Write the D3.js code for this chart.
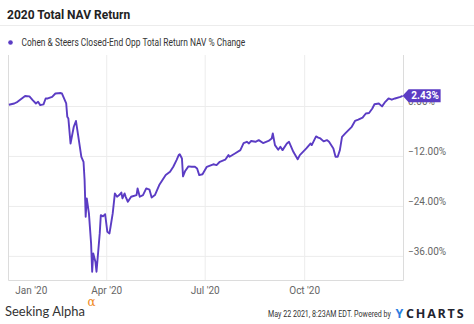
<!DOCTYPE html>
<html>
<head>
<meta charset="utf-8">
<script src="https://cdn.jsdelivr.net/npm/d3@7"></script>
<style>
  html, body { margin: 0; padding: 0; background: #fff; }
  svg { display: block; font-family: Roboto, "Noto Sans", sans-serif; }
</style>
</head>
<body>
<svg id="chart" width="474" height="324"></svg>
<script>
// Cohen & Steers Closed-End Opportunity Fund — total return NAV, % change during 2020
const dates = [
  "2020-01-02","2020-01-07","2020-01-10","2020-01-17","2020-01-21","2020-01-24","2020-01-27","2020-01-29","2020-01-31",
  "2020-02-03","2020-02-05","2020-02-07","2020-02-11","2020-02-14","2020-02-19","2020-02-20","2020-02-24","2020-02-25",
  "2020-02-26","2020-02-28","2020-03-02","2020-03-04","2020-03-06","2020-03-09","2020-03-11","2020-03-12","2020-03-13",
  "2020-03-14","2020-03-16","2020-03-17","2020-03-18","2020-03-19","2020-03-20","2020-03-22","2020-03-23","2020-03-26",
  "2020-03-27","2020-03-29","2020-03-31","2020-04-02","2020-04-04","2020-04-05","2020-04-07","2020-04-09","2020-04-11",
  "2020-04-13","2020-04-15","2020-04-16","2020-04-18","2020-04-19","2020-04-21","2020-04-24","2020-04-29","2020-04-30",
  "2020-05-02","2020-05-05","2020-05-08","2020-05-11","2020-05-13","2020-05-16","2020-05-20","2020-05-23","2020-05-26",
  "2020-05-30","2020-06-02","2020-06-05","2020-06-07","2020-06-08","2020-06-10","2020-06-11","2020-06-13","2020-06-16",
  "2020-06-19","2020-06-22","2020-06-24","2020-06-26","2020-06-29","2020-07-03","2020-07-09","2020-07-12","2020-07-15",
  "2020-07-20","2020-07-23","2020-07-24","2020-07-29","2020-08-03","2020-08-06","2020-08-09","2020-08-11","2020-08-13",
  "2020-08-17","2020-08-20","2020-08-24","2020-08-29","2020-09-01","2020-09-02","2020-09-04","2020-09-07","2020-09-09",
  "2020-09-11","2020-09-15","2020-09-17","2020-09-21","2020-09-25","2020-09-27","2020-10-03","2020-10-07","2020-10-08",
  "2020-10-12","2020-10-14","2020-10-16","2020-10-19","2020-10-22","2020-10-24","2020-10-28","2020-10-30","2020-11-01",
  "2020-11-03","2020-11-05","2020-11-08","2020-11-11","2020-11-14","2020-11-17","2020-11-20","2020-11-24","2020-11-27",
  "2020-11-30","2020-12-03","2020-12-05","2020-12-09","2020-12-12","2020-12-15","2020-12-18","2020-12-21","2020-12-24",
  "2020-12-29","2020-12-31"
];
const navChange = [
  0.3, 0.6, 1.0, 2.4, 2.3, 1.4, 0.6, 1.0, 0.2,
  0.4, 1.8, 1.8, 2.2, 3.0, 3.1, 3.0, 0.6, -2.6,
  -3.0, -9.0, -5.0, -3.6, -7.0, -12.2, -13.4, -17.8, -26.6,
  -22.2, -25.8, -29.4, -33.0, -39.8, -35.4, -37.4, -39.8, -30.6,
  -26.2, -26.5, -26.0, -30.2, -30.6, -29.0, -25.8, -21.0, -21.8,
  -21.4, -20.8, -22.2, -21.0, -21.8, -23.0, -21.8, -21.4, -19.8,
  -21.8, -21.4, -19.8, -20.1, -22.0, -21.4, -19.0, -17.8, -16.6,
  -15.8, -14.6, -13.0, -11.8, -11.6, -12.6, -16.9, -15.6, -14.5,
  -14.6, -14.6, -15.0, -16.6, -16.4, -14.6, -14.0, -14.2, -13.4,
  -12.9, -11.8, -12.2, -11.4, -10.6, -8.9, -8.6, -9.0, -8.4,
  -8.6, -8.2, -8.9, -8.4, -7.8, -6.6, -9.4, -10.5, -9.8,
  -10.6, -9.0, -8.6, -11.0, -12.8, -11.8, -10.2, -9.0, -9.4,
  -7.3, -7.6, -7.8, -8.5, -8.2, -8.6, -10.2, -12.2, -12.2,
  -10.6, -7.4, -6.6, -5.8, -5.0, -3.6, -3.3, -2.8, -1.8,
  -1.7, -0.6, 0.4, 0.6, -0.1, 1.0, 1.8, 1.5, 1.8,
  2.2, 2.43
];
const yTicks = [0, -12, -24, -36];
const xTickDates = ["2020-01-01", "2020-04-01", "2020-07-01", "2020-10-01"];
const xTickLabels = ["Jan '20", "Apr '20", "Jul '20", "Oct '20"];
const seriesName = "Cohen & Steers Closed-End Opp Total Return NAV % Change";
const chartTitle = "2020 Total NAV Return";

const parse = d3.timeParse("%Y-%m-%d");
const series = dates.map((d, i) => ({ date: parse(d), value: navChange[i] }));

const svg = d3.select("#chart");
const plot = { left: 8, right: 403, top: 55, bottom: 280 };
const purple = "#5b3cc4";

const x = d3.scaleTime()
  .domain([parse("2020-01-01"), parse("2020-12-31")])
  .range([7.8, 402.6]);
const y = d3.scaleLinear()
  .domain([-41.79, 12.24])
  .range([plot.bottom, plot.top]);

// squeeze a text horizontally so it spans `width` px, starting at x0
function fitWidth(sel, x0, width) {
  const w = sel.node().getComputedTextLength();
  const k = width / w;
  sel.attr("x", 0).attr("transform", `translate(${x0},0) scale(${k},1)`);
}

// Title and divider
svg.append("text")
  .attr("x", 7).attr("y", 18.5)
  .attr("font-size", 12).attr("font-weight", 700).attr("fill", "#222")
  .text(chartTitle);
svg.append("line")
  .attr("x1", 0).attr("x2", 474).attr("y1", 25.5).attr("y2", 25.5)
  .attr("stroke", "#ececec");

// Legend
svg.append("circle").attr("cx", 10.5).attr("cy", 42.5).attr("r", 2.3).attr("fill", purple);
const legendText = svg.append("text")
  .attr("y", 46)
  .attr("font-size", 10).attr("fill", "#333")
  .text(seriesName);
fitWidth(legendText, 21.5, 224);

// Horizontal grid; value labels sit a little above their lines
const yAxis = d3.axisRight(y).tickValues(yTicks)
  .tickSize(-(plot.right - plot.left))
  .tickFormat(d => d3.format(".2f")(d) + "%");
const gy = svg.append("g").attr("transform", `translate(${plot.right},0)`).call(yAxis);
gy.select(".domain").remove();
gy.selectAll(".tick line").attr("stroke", "#ececec");
gy.selectAll(".tick text")
  .attr("x", 5).attr("y", -5).attr("font-size", 10).attr("fill", "#666")
  .attr("font-family", "Roboto, sans-serif");

// Vertical grid + month labels
const xAxis = d3.axisBottom(x)
  .tickValues(xTickDates.map(parse))
  .tickSize(-(plot.bottom - plot.top))
  .tickFormat((d, i) => xTickLabels[i]);
const gx = svg.append("g").attr("transform", `translate(0,${plot.bottom})`).call(xAxis);
gx.select(".domain").remove();
gx.selectAll(".tick line").attr("stroke", "#ececec");
gx.selectAll(".tick text")
  .attr("y", 7).attr("dy", "0.71em")
  .attr("font-size", 10).attr("fill", "#666")
  .attr("font-family", "Roboto, sans-serif");
// first month label sits just inside the frame
gx.selectAll(".tick").filter((d, i) => i === 0).select("text")
  .attr("text-anchor", "start").attr("x", 7);
gx.selectAll(".tick").filter((d, i) => i === 0).select("line").remove();

// Plot frame (left, bottom, right)
svg.append("path")
  .attr("d", `M${plot.left + 0.5},${plot.top}V${plot.bottom + 0.5}H${plot.right + 0.5}V${plot.top}`)
  .attr("fill", "none").attr("stroke", "#dcdcdc");

// Series line
const line = d3.line().x(d => x(d.date)).y(d => y(d.value));
svg.append("path")
  .datum(series)
  .attr("d", line)
  .attr("fill", "none")
  .attr("stroke", purple)
  .attr("stroke-width", 1.9)
  .attr("stroke-linejoin", "round");

// Last value badge
const last = series[series.length - 1];
const by = y(last.value);
const bx = x(last.date);
svg.append("path")
  .attr("d", `M${bx},${by}L${bx + 6},${by - 6.5}H${bx + 38}V${by + 6.5}H${bx + 6}Z`)
  .attr("fill", purple);
svg.append("text")
  .attr("x", bx + 22.5).attr("y", by + 3.6)
  .attr("text-anchor", "middle")
  .attr("font-size", 10).attr("font-weight", 700).attr("fill", "#fff")
  .text(d3.format(".2f")(last.value) + "%");

// Footer
const brand = svg.append("text").attr("y", 316)
  .attr("font-size", 14).attr("fill", "#333")
  .attr("font-family", "Lato, 'Open Sans', sans-serif")
  .text("Seeking Alpha");
fitWidth(brand, 5, 80);
svg.append("text").attr("x", 87.5).attr("y", 305.5)
  .attr("font-size", 12).attr("fill", "#f08a24")
  .attr("font-family", "'DejaVu Serif', serif")
  .text("α");

const stamp = svg.append("text")
  .attr("y", 317.5)
  .attr("font-size", 8.5).attr("fill", "#333")
  .text("May 22 2021, 8:23AM EDT.  Powered by");
fitWidth(stamp, 268, 123);

svg.append("text")
  .attr("x", 395.5).attr("y", 318)
  .attr("font-size", 12.5).attr("font-weight", 700).attr("fill", "#2a7de1")
  .attr("font-family", "'Open Sans', Roboto, sans-serif")
  .text("Y");
svg.append("text")
  .attr("x", 406).attr("y", 318)
  .attr("font-size", 12.5).attr("font-weight", 700).attr("fill", "#1f2430")
  .attr("letter-spacing", 1.8)
  .attr("font-family", "'Open Sans', Roboto, sans-serif")
  .text("CHARTS");
</script>
</body>
</html>
